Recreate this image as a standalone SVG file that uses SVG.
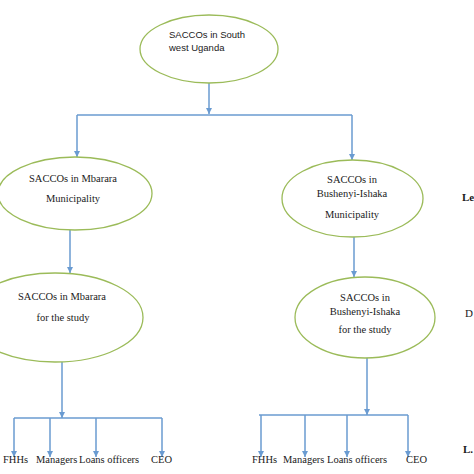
<svg xmlns="http://www.w3.org/2000/svg" width="474" height="474" viewBox="0 0 474 474">
<style>
.node ellipse{fill:#ffffff;stroke:#9bbb59;stroke-width:1.3}
.conn line{stroke:#6a9bd1;stroke-width:1.5;fill:none}
.arr{marker-end:url(#ah)}
.sans{font-family:"Liberation Sans",Arial,sans-serif;font-size:9.5px;fill:#1a1a1a}
.serif{font-family:"Liberation Serif","Times New Roman",serif;font-size:10.5px;fill:#1a1a1a}
.lbl{font-family:"Liberation Serif","Times New Roman",serif;font-size:10.5px;fill:#1a1a1a}
.side{font-family:"Liberation Serif","Times New Roman",serif;font-size:11px;fill:#1a1a1a}
.c{text-anchor:middle}
</style>
<defs>
<marker id="ah" viewBox="0 0 10 10" refX="10" refY="5" markerWidth="6" markerHeight="6" markerUnits="userSpaceOnUse" orient="auto">
<path d="M0,0 L10,5 L0,10 z" fill="#6a9bd1"/>
</marker>
</defs>
<rect width="474" height="474" fill="#ffffff"/>

<g id="connectors" class="conn">
<line class="arr" x1="209" y1="83" x2="209" y2="114"/>
<line x1="77" y1="115" x2="352" y2="115"/>
<line class="arr" x1="77" y1="115" x2="77" y2="157"/>
<line class="arr" x1="352" y1="115" x2="352" y2="160"/>
<line class="arr" x1="70" y1="230" x2="70" y2="273"/>
<line class="arr" x1="354" y1="237" x2="354" y2="277"/>
<line class="arr" x1="62" y1="362" x2="62" y2="418"/>
<line x1="14" y1="418" x2="162" y2="418"/>
<line class="arr" x1="14" y1="418" x2="14" y2="457"/>
<line class="arr" x1="50" y1="418" x2="50" y2="457"/>
<line class="arr" x1="96" y1="418" x2="96" y2="457"/>
<line class="arr" x1="162" y1="418" x2="162" y2="457"/>
<line class="arr" x1="367" y1="358" x2="367" y2="415"/>
<line x1="259" y1="415" x2="408" y2="415"/>
<line class="arr" x1="261" y1="415" x2="261" y2="457"/>
<line class="arr" x1="305" y1="415" x2="305" y2="457"/>
<line class="arr" x1="347" y1="415" x2="347" y2="457"/>
<line class="arr" x1="408" y1="415" x2="408" y2="457"/>
</g>

<g id="node-south-west" class="node">
<ellipse cx="209" cy="49" rx="69" ry="34"/>
<text class="sans" x="169" y="37.5">SACCOs in South</text>
<text class="sans" x="169" y="51">west Uganda</text>
</g>

<g id="node-mbarara-municipality" class="node">
<ellipse cx="75" cy="193.5" rx="77" ry="36.5"/>
<text class="serif c" x="73" y="182">SACCOs in Mbarara</text>
<text class="serif c" x="73" y="202">Municipality</text>
</g>

<g id="node-bushenyi-municipality" class="node">
<ellipse cx="352.5" cy="198.5" rx="70.5" ry="38.5"/>
<text class="serif c" x="352" y="183">SACCOs in</text>
<text class="serif c" x="352" y="197">Bushenyi-Ishaka</text>
<text class="serif c" x="352" y="218">Municipality</text>
</g>

<g id="node-mbarara-study" class="node">
<ellipse cx="55" cy="317.5" rx="88" ry="44.5"/>
<text class="serif c" x="62" y="300">SACCOs in Mbarara</text>
<text class="serif c" x="63" y="321">for the study</text>
</g>

<g id="node-bushenyi-study" class="node">
<ellipse cx="365" cy="317.5" rx="70" ry="40.5"/>
<text class="serif c" x="365" y="301">SACCOs in</text>
<text class="serif c" x="365" y="315">Bushenyi-Ishaka</text>
<text class="serif c" x="365" y="333">for the study</text>
</g>

<g id="labels-left">
<text class="lbl" x="3" y="463">FHHs</text>
<text class="lbl" x="36" y="463">Managers</text>
<text class="lbl" x="79" y="463">Loans officers</text>
<text class="lbl" x="151" y="463">CEO</text>
</g>

<g id="labels-right">
<text class="lbl" x="252" y="463">FHHs</text>
<text class="lbl" x="283" y="463">Managers</text>
<text class="lbl" x="327" y="463">Loans officers</text>
<text class="lbl" x="406" y="463">CEO</text>
</g>

<g id="side-labels">
<text class="side" x="462" y="201" font-weight="bold">Le</text>
<text class="side" x="465" y="317">D</text>
<text class="side" x="463" y="453" font-weight="bold">L.</text>
</g>
</svg>
